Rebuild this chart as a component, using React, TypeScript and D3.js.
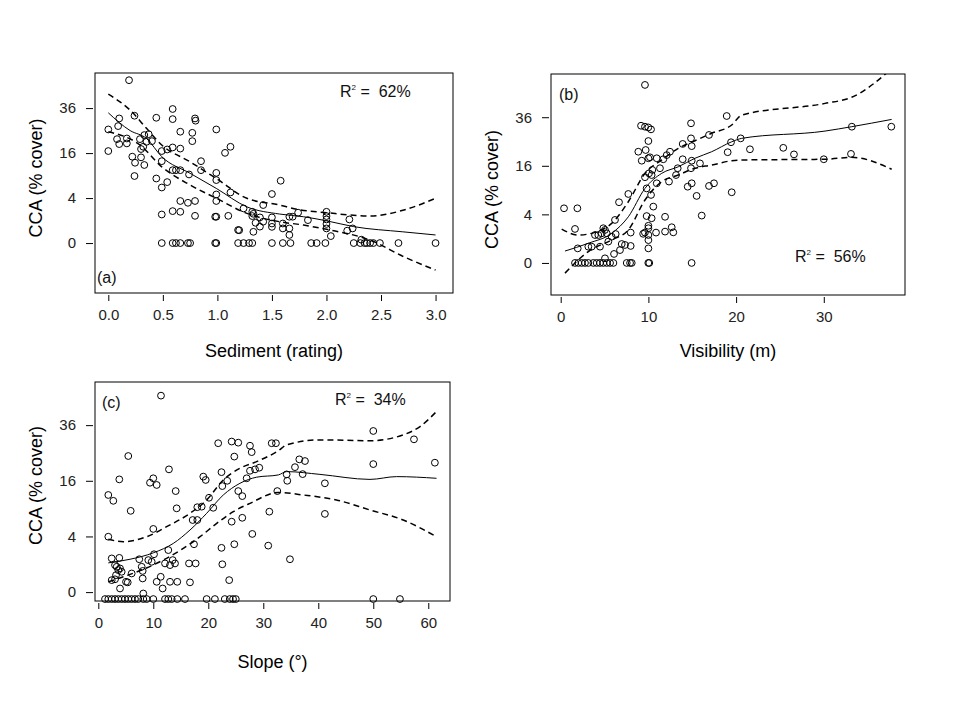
import React, { useRef, useEffect } from "react";
import * as d3 from "d3";

// CCA cover is plotted on a square-root axis: y values below are sqrt(cover),
// tick labels show the squares (0, 4, 16, 36).
const yTickValues = [0, 2, 4, 6];

// ---- (a) Sediment (rating)
const sedimentZeroX = [
  0.49, 0.59, 0.62, 0.66, 0.73, 0.75, 0.98, 0.99, 1.19, 1.24, 1.29, 1.32, 1.5,
  1.6, 1.67, 1.86, 1.91, 1.99, 2.25, 2.31, 2.35, 2.37, 2.4, 2.43, 2.49, 2.66, 3.0,
];
const sedimentPoints: [number, number][] = [
  [0.19, 7.24], [0.0, 5.05], [0.0, 4.09], [0.1, 5.54], [0.09, 5.2], [0.08, 4.62],
  [0.1, 4.4], [0.17, 4.65], [0.17, 4.43], [0.24, 5.66], [0.22, 3.84], [0.245, 3.57],
  [0.24, 2.98], [0.29, 4.62], [0.3, 4.18], [0.3, 3.81], [0.33, 4.8], [0.33, 3.47],
  [0.32, 4.28], [0.35, 4.5], [0.37, 4.84], [0.4, 4.53], [0.44, 5.57], [0.44, 2.87],
  [0.49, 4.09], [0.49, 3.64], [0.49, 2.47], [0.49, 1.27], [0.54, 2.71], [0.54, 4.16],
  [0.59, 5.96], [0.59, 5.51], [0.59, 4.25], [0.59, 3.24], [0.59, 1.42], [0.62, 3.24],
  [0.66, 3.24], [0.66, 4.2], [0.66, 4.95], [0.66, 1.87], [0.66, 1.39], [0.73, 1.79],
  [0.74, 3.05], [0.77, 4.9], [0.77, 4.53], [0.795, 5.54], [0.8, 5.44], [0.795, 1.87],
  [0.795, 1.21], [0.85, 3.64], [0.85, 3.24], [0.99, 5.05], [0.99, 3.12], [0.99, 2.8],
  [0.99, 2.16], [0.99, 1.87], [0.98, 1.17], [0.99, 1.17], [1.07, 4.01], [1.12, 4.28],
  [1.12, 2.25], [1.1, 1.21], [1.19, 0.58], [1.2, 0.57], [1.24, 1.54], [1.32, 1.39],
  [1.33, 1.3], [1.32, 1.2], [1.35, 0.9], [1.33, 0.5], [1.39, 1.14], [1.39, 0.73],
  [1.42, 0.95], [1.42, 1.69], [1.5, 2.18], [1.5, 1.14], [1.5, 0.87], [1.5, 0.72],
  [1.58, 2.77], [1.6, 0.87], [1.6, 0.65], [1.66, 1.17], [1.69, 1.17], [1.66, 0.65],
  [1.66, 0.36], [1.74, 1.35], [1.83, 1.02], [2.0, 1.39], [2.0, 1.2], [2.0, 1.05],
  [2.0, 0.85], [2.0, 0.65], [2.04, 0.31], [2.21, 1.05], [2.19, 0.55], [2.24, 0.65],
  [2.32, 0.15],
];
const sedimentFitX = [0, 0.2, 0.35, 0.49, 0.75, 0.99, 1.27, 1.57, 1.79, 2.0, 2.25, 2.7, 3.0];
const sedimentFit = [5.79, 5.0, 4.65, 3.84, 3.1, 2.43, 1.61, 1.29, 1.17, 0.99, 0.73, 0.5, 0.36];
const sedimentUpperX = [0, 0.2, 0.35, 0.49, 0.75, 0.99, 1.27, 1.57, 1.73, 2.0, 2.4, 2.71, 3.0];
const sedimentUpper = [6.62, 5.91, 5.1, 4.36, 3.61, 2.87, 1.99, 1.69, 1.5, 1.35, 1.2, 1.47, 1.99];
const sedimentLowerX = [0, 0.29, 0.49, 0.75, 0.99, 1.27, 1.57, 1.79, 2.0, 2.4, 2.71, 3.0];
const sedimentLower = [4.95, 4.36, 3.39, 2.58, 1.99, 1.32, 0.95, 0.8, 0.61, 0.13, -0.61, -1.2];

// ---- (b) Visibility (m)
const visibilityZeroX = [
  1.63, 2.01, 2.39, 2.77, 3.15, 3.72, 4.1, 4.48, 4.86, 5.25, 5.63, 6.01, 7.53,
  7.91, 8.1, 9.99, 10.1, 14.93,
];
const visibilityPoints: [number, number][] = [
  [9.61, 7.33], [0.38, 2.25], [1.9, 2.25], [1.63, 1.4], [1.94, 0.6], [5.05, 0.19],
  [3.15, 0.67], [3.53, 0.67], [3.91, 1.15], [4.29, 1.15], [4.67, 1.22], [5.05, 1.36],
  [5.25, 1.22], [4.48, 0.67], [4.86, 1.43], [5.43, 0.88], [5.81, 1.08], [6.27, 1.19],
  [6.19, 1.77], [6.08, 0.37], [6.76, 0.53], [6.96, 0.78], [7.33, 0.74], [6.65, 2.5],
  [7.71, 2.84], [7.98, 1.25], [7.98, 0.7], [9.4, 1.2], [9.6, 1.25], [10.0, 1.43],
  [10.0, 1.15], [10.0, 0.94], [10.0, 0.6], [10.0, 1.53], [9.8, 1.93], [10.37, 1.84],
  [10.56, 2.32], [10.3, 2.8], [10.87, 1.25], [9.8, 3.07], [9.61, 3.53], [10.07, 3.69],
  [10.37, 3.62], [10.45, 3.83], [10.0, 4.31], [10.18, 4.35], [9.24, 4.21], [9.69, 4.65],
  [8.85, 4.58], [10.0, 5.02], [9.16, 5.65], [9.61, 5.61], [9.99, 5.58], [10.3, 5.5],
  [10.95, 4.31], [11.32, 3.9], [10.95, 3.28], [12.35, 3.35], [11.7, 4.27], [12.09, 4.44],
  [12.46, 4.58], [11.9, 1.9], [11.9, 1.29], [12.66, 1.47], [12.84, 1.26], [13.34, 3.9],
  [13.91, 4.27], [13.15, 3.62], [13.91, 4.9], [14.86, 5.75], [14.86, 5.13], [14.94, 4.81],
  [14.86, 3.9], [14.94, 4.21], [14.48, 3.14], [14.94, 3.28], [15.5, 2.76], [15.88, 4.1],
  [16.08, 1.95], [16.91, 3.17], [17.48, 3.28], [16.91, 5.27], [18.93, 6.05], [19.04, 4.56],
  [19.5, 2.91], [19.42, 4.97], [20.52, 5.13], [21.58, 4.68], [25.38, 4.74], [26.6, 4.47],
  [30.0, 4.27], [33.2, 5.61], [33.1, 4.49], [37.7, 5.61],
];
const visibilityFitX = [0.49, 3.15, 5.82, 7.71, 9.61, 11.52, 13.41, 15.31, 17.22, 19.5, 20.64, 30.14, 33.18, 37.74];
const visibilityFit = [0.49, 0.81, 1.22, 1.9, 3.07, 3.69, 3.96, 4.31, 4.58, 4.99, 5.13, 5.43, 5.61, 5.91];
const visibilityUpperX = [0.11, 2.0, 3.91, 5.81, 7.71, 9.61, 11.52, 13.41, 15.31, 17.22, 19.5, 20.64, 30.14, 33.18, 37.74];
const visibilityUpper = [1.39, 1.15, 1.26, 1.63, 2.52, 3.69, 4.24, 4.72, 5.03, 5.34, 5.68, 6.09, 6.57, 6.82, 8.0];
const visibilityLowerX = [0.49, 3.15, 5.81, 7.71, 9.61, 11.52, 13.41, 15.31, 17.22, 19.5, 20.64, 30.14, 33.18, 37.74];
const visibilityLower = [-0.42, 0.47, 0.95, 1.36, 2.59, 3.35, 3.62, 3.9, 4.03, 4.21, 4.24, 4.27, 4.35, 3.86];

// ---- (c) Slope (degrees)
const slopeZeroX = [
  1.22, 1.82, 2.44, 3.04, 3.64, 4.25, 4.85, 5.45, 6.05, 6.67, 7.27, 8.18, 8.8, 10.0,
  12.13, 12.73, 13.35, 14.36, 15.76, 19.7, 21.2, 23.0, 23.9, 24.5, 25.0, 50.0, 54.85,
];
const slopeZeroY = -0.25;
const slopePoints: [number, number][] = [
  [11.4, 7.06], [1.82, 3.49], [2.73, 3.28], [1.82, 1.99], [3.82, 4.05], [5.45, 4.89],
  [5.89, 2.92], [2.44, 1.21], [3.82, 1.23], [3.04, 0.97], [3.35, 0.91], [3.64, 0.79],
  [3.95, 0.85], [4.25, 0.73], [3.22, 0.61], [2.44, 0.43], [3.04, 0.46], [3.95, 0.13],
  [5.04, 0.37], [5.35, 0.35], [6.07, 0.67], [7.45, 1.18], [7.89, 0.91], [8.07, 0.76],
  [8.07, 0.49], [8.18, -0.05], [9.09, 1.15], [9.71, 1.09], [10.13, 1.36], [10.0, 2.27],
  [9.4, 3.93], [10.0, 4.09], [10.62, 3.85], [11.35, 0.55], [10.62, 0.37], [11.7, 0.13],
  [12.13, 1.03], [12.73, 1.51], [13.04, 0.97], [13.53, 1.15], [13.95, 1.03], [13.04, 0.37],
  [14.36, 0.37], [12.85, 4.41], [14.07, 3.63], [14.25, 3.01], [16.49, 1.03], [17.7, 1.03],
  [16.67, 0.35], [17.16, 2.59], [18.0, 2.59], [17.4, 1.72], [18.0, 3.05], [18.8, 3.07],
  [19.09, 4.15], [19.53, 4.03], [20.13, 3.39], [20.9, 3.03], [21.8, 5.35], [22.4, 4.31],
  [22.55, 3.81], [22.4, 1.59], [22.55, 1.0], [23.45, 4.0], [23.8, 0.43], [24.25, 5.41],
  [25.45, 5.37], [24.73, 4.87], [24.25, 2.53], [24.73, 1.72], [25.45, 3.63], [26.18, 3.45],
  [26.98, 4.09], [26.18, 2.67], [27.58, 5.26], [27.89, 5.03], [27.58, 4.36], [28.5, 4.41],
  [29.27, 4.47], [28.0, 2.09], [30.9, 1.67], [31.1, 2.89], [31.53, 5.35], [32.3, 5.35],
  [32.55, 3.63], [36.55, 4.77], [37.58, 4.71], [35.76, 4.49], [34.25, 4.23], [34.36, 4.0],
  [37.16, 4.24], [34.85, 1.18], [41.2, 3.91], [41.2, 2.81], [50.0, 5.79], [50.0, 4.6],
  [57.4, 5.49], [61.2, 4.65],
];
const slopeFitX = [1.82, 5.76, 10.0, 13.64, 16.67, 19.7, 22.73, 25.76, 28.8, 32.73, 34.25, 40.3, 49.4, 54.25, 61.5];
const slopeFit = [1.05, 1.18, 1.41, 1.75, 2.23, 2.83, 3.49, 3.91, 4.13, 4.21, 4.33, 4.23, 4.05, 4.15, 4.09];
const slopeUpperX = [1.82, 4.55, 8.8, 12.43, 16.67, 19.7, 22.73, 25.76, 28.8, 32.73, 34.25, 40.3, 49.4, 55.45, 58.5, 61.5];
const slopeUpper = [1.9, 1.81, 1.99, 2.35, 2.83, 3.31, 4.03, 4.45, 4.69, 5.08, 5.29, 5.47, 5.44, 5.65, 5.95, 6.49];
const slopeLowerX = [1.82, 4.55, 8.18, 11.8, 15.45, 18.5, 21.53, 24.55, 27.58, 32.73, 37.27, 43.3, 49.4, 55.45, 61.5];
const slopeLower = [0.37, 0.55, 0.82, 1.15, 1.57, 1.99, 2.47, 2.89, 3.19, 3.58, 3.49, 3.31, 2.95, 2.59, 1.99];

interface PanelConfig {
  id: string;
  box: { left: number; right: number; top: number; bottom: number };
  xDomain: [number, number];
  yDomain: [number, number];
  xTicks: number[];
  xFormat: (d: number) => string;
  xTitle: string;
  xTitleOffset: number;
  yTitleShift: number;
  label: string;
  labelPos: [number, number];
  r2: string;
  r2Pos: [number, number];
  zeroX: number[];
  zeroY: number;
  points: [number, number][];
  fit: [number[], number[]];
  upper: [number[], number[]];
  lower: [number[], number[]];
}

const FONT = "'Liberation Sans', Arial, sans-serif";

const panels: PanelConfig[] = [
  {
    id: "a",
    box: { left: 95, right: 453, top: 73, bottom: 293 },
    xDomain: [-0.122, 3.16],
    yDomain: [-2.22, 7.56],
    xTicks: [0, 0.5, 1, 1.5, 2, 2.5, 3],
    xFormat: d3.format(".1f"),
    xTitle: "Sediment (rating)",
    xTitleOffset: 64,
    yTitleShift: -5,
    label: "(a)",
    labelPos: [97, 283],
    r2: "62%",
    r2Pos: [340, 97],
    zeroX: sedimentZeroX,
    zeroY: 0,
    points: sedimentPoints,
    fit: [sedimentFitX, sedimentFit],
    upper: [sedimentUpperX, sedimentUpper],
    lower: [sedimentLowerX, sedimentLower],
  },
  {
    id: "b",
    box: { left: 551, right: 905, top: 74, bottom: 295 },
    xDomain: [-1.106, 39.26],
    yDomain: [-1.32, 7.78],
    xTicks: [0, 10, 20, 30],
    xFormat: d3.format("d"),
    xTitle: "Visibility (m)",
    xTitleOffset: 62,
    yTitleShift: 5,
    label: "(b)",
    labelPos: [559, 100],
    r2: "56%",
    r2Pos: [795, 262],
    zeroX: visibilityZeroX,
    zeroY: 0,
    points: visibilityPoints,
    fit: [visibilityFitX, visibilityFit],
    upper: [visibilityUpperX, visibilityUpper],
    lower: [visibilityLowerX, visibilityLower],
  },
  {
    id: "c",
    box: { left: 95, right: 450, top: 382, bottom: 601 },
    xDomain: [-0.6, 63.95],
    yDomain: [-0.32, 7.55],
    xTicks: [0, 10, 20, 30, 40, 50, 60],
    xFormat: d3.format("d"),
    xTitle: "Slope (\u00b0)",
    xTitleOffset: 67,
    yTitleShift: -6,
    label: "(c)",
    labelPos: [102, 408],
    r2: "34%",
    r2Pos: [335, 405],
    zeroX: slopeZeroX,
    zeroY: slopeZeroY,
    points: slopePoints,
    fit: [slopeFitX, slopeFit],
    upper: [slopeUpperX, slopeUpper],
    lower: [slopeLowerX, slopeLower],
  },
];

const drawPanel = (
  svg: d3.Selection<SVGSVGElement, unknown, null, undefined>,
  p: PanelConfig
) => {
  const { left, right, top, bottom } = p.box;
  const x = d3.scaleLinear().domain(p.xDomain).range([left, right]);
  const y = d3.scaleLinear().domain(p.yDomain).range([bottom, top]);

  const g = svg.append("g");

  // Clip curves to the plot box
  g.append("clipPath")
    .attr("id", `clip-${p.id}`)
    .append("rect")
    .attr("x", left)
    .attr("y", top)
    .attr("width", right - left)
    .attr("height", bottom - top);

  // Points
  const pts: [number, number][] = [
    ...p.points,
    ...p.zeroX.map((v) => [v, p.zeroY] as [number, number]),
  ];
  g.append("g")
    .selectAll("circle")
    .data(pts)
    .join("circle")
    .attr("cx", (d) => x(d[0]))
    .attr("cy", (d) => y(d[1]))
    .attr("r", 3.4)
    .attr("fill", "none")
    .attr("stroke", "#000")
    .attr("stroke-width", 1);

  // Smooth fit and confidence bands
  const line = d3
    .line<[number, number]>()
    .x((d) => x(d[0]))
    .y((d) => y(d[1]))
    .curve(d3.curveMonotoneX);
  const toPairs = (c: [number[], number[]]) =>
    c[0].map((v, i) => [v, c[1][i]] as [number, number]);

  const curves = g.append("g").attr("clip-path", `url(#clip-${p.id})`);
  curves
    .append("path")
    .attr("d", line(toPairs(p.fit)))
    .attr("fill", "none")
    .attr("stroke", "#000")
    .attr("stroke-width", 1);
  [p.upper, p.lower].forEach((c) => {
    curves
      .append("path")
      .attr("d", line(toPairs(c)))
      .attr("fill", "none")
      .attr("stroke", "#000")
      .attr("stroke-width", 1.5)
      .attr("stroke-dasharray", "6,4");
  });

  // Box
  g.append("rect")
    .attr("x", left)
    .attr("y", top)
    .attr("width", right - left)
    .attr("height", bottom - top)
    .attr("fill", "none")
    .attr("stroke", "#000")
    .attr("stroke-width", 1);

  // Axes
  const yAxis = d3
    .axisLeft(y)
    .tickValues(yTickValues)
    .tickFormat((d) => String((d as number) * (d as number)))
    .tickSize(7)
    .tickPadding(10);
  const ya = g
    .append("g")
    .attr("transform", `translate(${left - 2},0)`)
    .call(yAxis);
  ya.select(".domain").remove();

  const xAxis = d3
    .axisBottom(x)
    .tickValues(p.xTicks)
    .tickFormat((d) => p.xFormat(d as number))
    .tickSize(6)
    .tickPadding(8);
  const xa = g
    .append("g")
    .attr("transform", `translate(0,${bottom + 2})`)
    .call(xAxis);
  xa.select(".domain").remove();

  [ya, xa].forEach((a) => {
    a.attr("font-family", FONT).attr("font-size", 15);
    a.selectAll("text").attr("fill", "#222");
  });

  // Titles
  g.append("text")
    .attr("x", (left + right) / 2)
    .attr("y", bottom + p.xTitleOffset)
    .attr("text-anchor", "middle")
    .attr("font-family", FONT)
    .attr("font-size", 18)
    .text(p.xTitle);

  g.append("text")
    .attr(
      "transform",
      `translate(${left - 53},${(top + bottom) / 2 + p.yTitleShift}) rotate(-90)`
    )
    .attr("text-anchor", "middle")
    .attr("font-family", FONT)
    .attr("font-size", 18)
    .text("CCA (% cover)");

  // Panel letter
  g.append("text")
    .attr("x", p.labelPos[0])
    .attr("y", p.labelPos[1])
    .attr("font-family", FONT)
    .attr("font-size", 16)
    .attr("fill", "#111")
    .text(p.label);

  // R squared
  const r2 = g
    .append("text")
    .attr("x", p.r2Pos[0])
    .attr("y", p.r2Pos[1])
    .attr("font-family", FONT)
    .attr("font-size", 16)
    .attr("fill", "#111");
  r2.append("tspan").text("R");
  r2.append("tspan").attr("font-size", 8).attr("dy", -7).text("2");
  r2.append("tspan")
    .attr("dy", 7)
    .attr("xml:space", "preserve")
    .text(" =  " + p.r2);
};

const App: React.FC = () => {
  const svgRef = useRef<SVGSVGElement | null>(null);

  useEffect(() => {
    const svg = d3.select(svgRef.current!);
    svg.selectAll("*").remove();
    panels.forEach((p) => drawPanel(svg, p));
  }, []);

  return (
    <svg
      ref={svgRef}
      width={960}
      height={720}
      style={{ position: "absolute", left: 0, top: 0, background: "#fff" }}
    ></svg>
  );
};

export default App;
